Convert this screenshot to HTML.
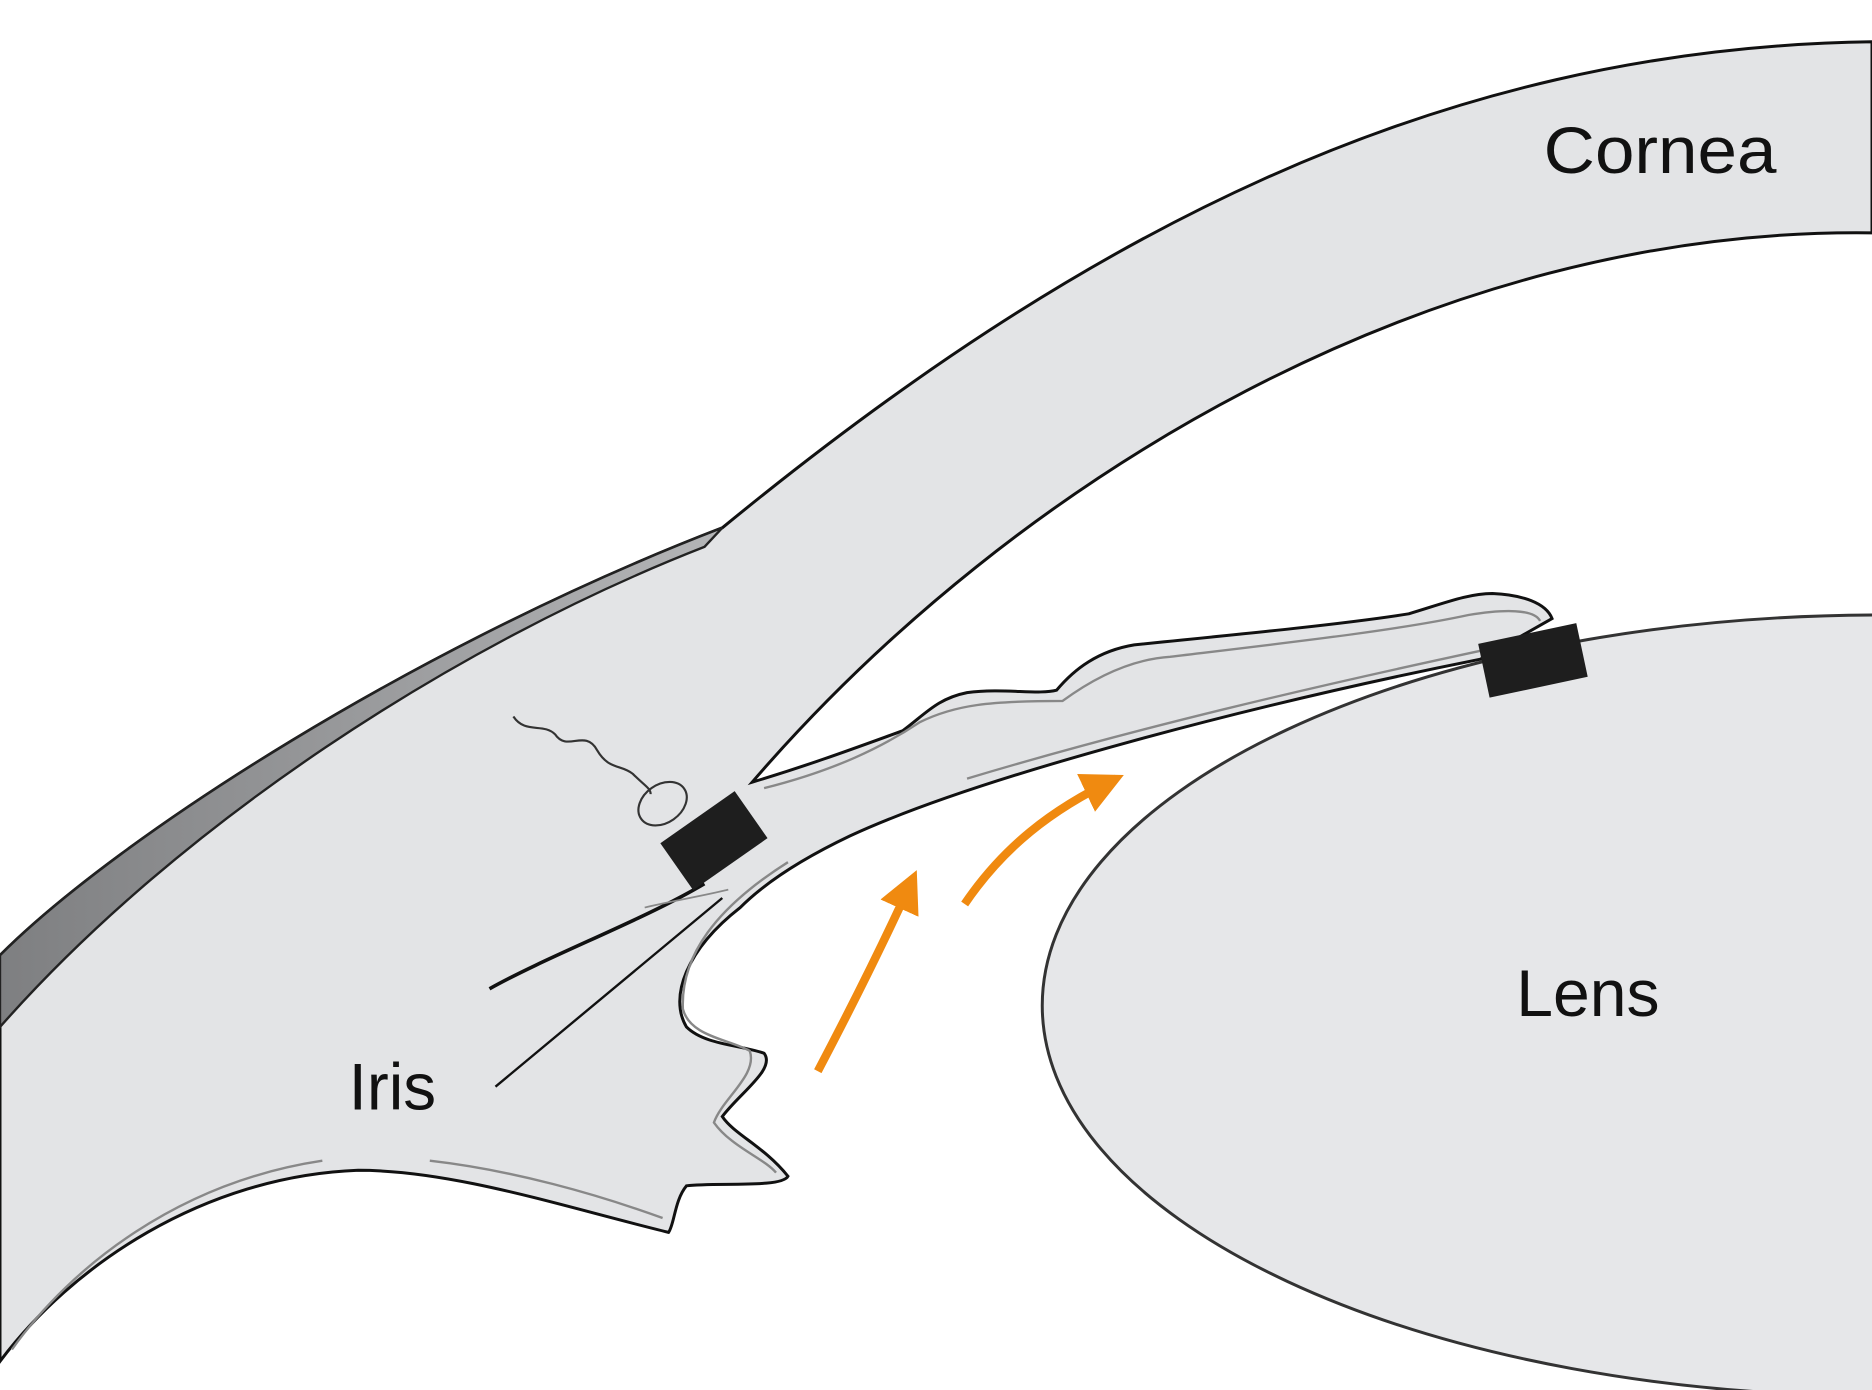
<!DOCTYPE html>
<html><head><meta charset="utf-8"><style>html,body{margin:0;padding:0;background:#fff}svg{display:block}</style></head>
<body>
<svg width="1872" height="1390" viewBox="0 0 1568 1164" preserveAspectRatio="none" xmlns="http://www.w3.org/2000/svg">
<defs>
<linearGradient id="dk" x1="0" y1="0" x2="1" y2="0"><stop offset="0" stop-color="#7e7f81"/><stop offset="1" stop-color="#b4b5b7"/></linearGradient>
<marker id="ah" viewBox="0 0 10 10" refX="8" refY="5" markerWidth="5" markerHeight="5" orient="auto"><path d="M0,0 L10,5 L0,10 Z" fill="#f08a10"/></marker>
</defs>
<rect width="1568" height="1164" fill="#fff"/>
<!-- main tissue -->
<path d="M0,800 C100,700 350,540 605,442 C900,200 1200,40 1568,35 L1568,195 C1200,190 850,400 630,655 C680,640 720,625 756,612 C775,598 785,585 810,580 C840,576 870,582 885,578 C900,560 920,545 950,540 C1050,530 1130,522 1180,514 C1210,505 1230,497 1250,497 C1275,498 1295,505 1300,518 L1240,552 C1050,590 820,650 712,700 C670,720 640,740 620,760 C575,795 560,835 575,860 C590,875 620,875 640,882 C650,895 620,915 605,935 C615,950 640,960 660,985 C655,995 600,990 575,993 C565,1005 565,1025 560,1032 C470,1010 380,980 300,980 C170,985 60,1060 0,1140 Z" fill="#e3e4e6" stroke="#111" stroke-width="2.5"/>
<!-- dark band -->
<path d="M0,800 C100,700 350,540 605,442 L590,458 C380,540 150,690 0,860 Z" fill="url(#dk)" stroke="#222" stroke-width="2"/>
<!-- lens -->
<ellipse cx="1575" cy="842" rx="702" ry="327" fill="#e6e7e9" stroke="#333" stroke-width="2.5"/>
<!-- inner iris lines -->
<path d="M640,660 C700,645 740,625 770,605 C800,590 830,587 890,587 C920,565 950,552 980,550 C1080,538 1170,528 1230,515 C1260,510 1285,510 1290,520" fill="none" stroke="#888" stroke-width="2"/>
<path d="M810,652 C950,610 1100,575 1240,545" fill="none" stroke="#888" stroke-width="2"/>
<path d="M660,722 C600,760 570,800 572,845 C578,868 610,870 628,880 C635,900 605,920 598,940 C612,960 640,970 650,982" fill="none" stroke="#888" stroke-width="2"/>
<path d="M360,972 C430,980 500,1000 555,1020" fill="none" stroke="#888" stroke-width="2"/>
<path d="M270,972 C150,990 60,1060 10,1130" fill="none" stroke="#888" stroke-width="2"/>
<!-- black lines -->
<path d="M410,828 C460,800 540,770 590,740" fill="none" stroke="#111" stroke-width="3"/>
<path d="M415,910 L605,752" fill="none" stroke="#111" stroke-width="2"/>
<path d="M540,760 C560,755 590,750 610,745" fill="none" stroke="#888" stroke-width="1.5"/>
<!-- wavy vessel -->
<path d="M430,600 C440,615 455,605 465,615 C475,630 490,610 500,628 C510,645 520,640 530,648 C540,658 545,660 545,665" fill="none" stroke="#333" stroke-width="1.8"/>
<ellipse cx="555" cy="673" rx="22" ry="16" transform="rotate(-35 555 673)" fill="none" stroke="#333" stroke-width="1.8"/>
<!-- blocks -->
<rect x="560" y="680" width="76" height="48" transform="rotate(-35 598 704)" fill="#1e1e1e"/>
<rect x="1242" y="530" width="84" height="46" transform="rotate(-12 1284 553)" fill="#1e1e1e"/>
<!-- arrows -->
<path d="M685,897 C715,840 740,790 765,735" fill="none" stroke="#f08a10" stroke-width="7" marker-end="url(#ah)"/>
<path d="M808,757 C840,710 880,678 935,652" fill="none" stroke="#f08a10" stroke-width="7" marker-end="url(#ah)"/>
<!-- labels -->
<g font-family="Liberation Sans, sans-serif" fill="#111">
<text x="1293" y="145" font-size="55" textLength="195" lengthAdjust="spacingAndGlyphs">Cornea</text>
<text x="1270" y="851" font-size="55" textLength="120" lengthAdjust="spacingAndGlyphs">Lens</text>
<text x="292" y="929" font-size="55">Iris</text>
</g>
</svg>
</body></html>
